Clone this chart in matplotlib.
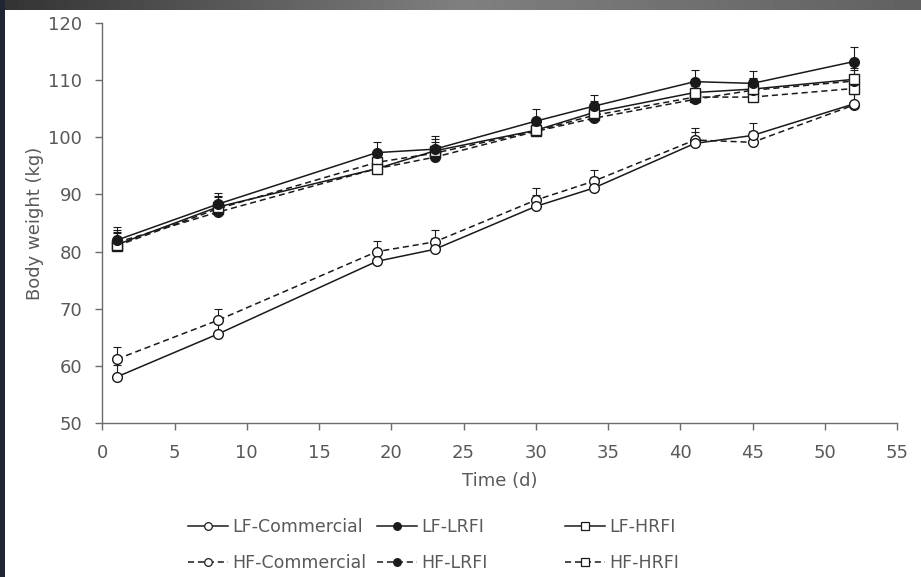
import numpy as np
import matplotlib.pyplot as plt

# sampling days
days = [1, 8, 19, 23, 30, 34, 41, 45, 52]

# body weight (kg)
lf_comm = [58.1, 65.6, 78.3, 80.4, 87.9, 91.1, 98.9, 100.3, 105.8]
hf_comm = [61.2, 68.0, 80.0, 81.7, 89.0, 92.3, 99.5, 99.1, 105.6]
lf_lrfi = [82.0, 88.3, 97.3, 97.9, 102.8, 105.4, 109.7, 109.4, 113.2]
hf_lrfi = [81.6, 86.9, 94.5, 96.5, 101.0, 103.3, 106.6, 108.2, 109.8]
lf_hrfi = [81.2, 87.8, 94.5, 97.6, 101.2, 104.3, 107.8, 108.4, 110.1]
hf_hrfi = [81.0, 87.5, 95.6, 97.2, 101.1, 103.8, 107.0, 107.0, 108.5]

# standard errors (upper bars only)
lf_comm_se = [2.1, 2.0, 2.0, 2.0, 2.0, 2.0, 2.0, 2.2, 2.0]
hf_comm_se = [2.1, 1.9, 1.9, 2.0, 2.2, 2.0, 2.1, 2.0, 2.0]
lf_lrfi_se = [2.3, 1.9, 1.9, 2.3, 2.1, 2.0, 2.1, 2.2, 2.6]
hf_lrfi_se = [2.2, 2.0, 2.0, 2.0, 2.0, 2.0, 2.0, 2.0, 2.0]
lf_hrfi_se = [2.2, 2.0, 2.0, 2.0, 2.0, 2.0, 2.0, 2.0, 2.0]
hf_hrfi_se = [2.2, 2.0, 2.0, 2.0, 2.0, 2.0, 2.0, 2.0, 2.0]

W, H = 921, 577
fig = plt.figure(figsize=(W / 100, H / 100), dpi=100)
plt.rcParams['font.family'] = ['DejaVu Sans']

# screenshot frame: gradient bar at top, dark strip at left
top = fig.add_axes([0, 1 - 10 / H, 1, 10 / H])
grad = np.interp(np.linspace(0, 1, 300), [0, 0.5, 1], [0.2, 0.5, 0.38])
top.imshow(np.vstack([grad, grad]), aspect='auto', cmap='gray', vmin=0, vmax=1)
top.axis('off')
left = fig.add_axes([0, 0, 5 / W, 1])
left.set_facecolor('#1f2533')
left.set_xticks([])
left.set_yticks([])
for s in left.spines.values():
    s.set_visible(False)

ax = fig.add_axes([102.3 / W, 1 - 423.3 / H, (897 - 102.3) / W, (423.3 - 22.7) / H])

txt = '#595959'
ink = '#1a1a1a'

series = [
    (hf_hrfi, hf_hrfi_se, 'HF-HRFI', 's', 'white', (0, (4, 2.5))),
    (hf_lrfi, hf_lrfi_se, 'HF-LRFI', 'o', ink, (0, (4, 2.5))),
    (hf_comm, hf_comm_se, 'HF-Commercial', 'o', 'white', (0, (4, 2.5))),
    (lf_hrfi, lf_hrfi_se, 'LF-HRFI', 's', 'white', '-'),
    (lf_comm, lf_comm_se, 'LF-Commercial', 'o', 'white', '-'),
    (lf_lrfi, lf_lrfi_se, 'LF-LRFI', 'o', ink, '-'),
]

handles = {}
for vals, se, name, mk, fc, ls in series:
    ax.errorbar(days, vals, yerr=[np.zeros(len(se)), se], fmt='none',
                ecolor=ink, elinewidth=0.8, capsize=3, capthick=0.8, zorder=2)
    ax.plot(days, vals, color=ink, lw=1.1, ls=ls, zorder=3)
    ax.plot(days, vals, ls='none', marker=mk, ms=7, mfc=fc, mec=ink, mew=1.0, zorder=4)
    h, = plt.plot([], [], color=ink, lw=1.1, ls=ls, marker=mk, ms=5.5, mfc=fc, mec=ink, mew=0.9)
    handles[name] = h

ax.set_xlim(0, 55)
ax.set_ylim(50, 120)
ax.set_xticks(range(0, 56, 5))
ax.set_yticks(range(50, 121, 10))
for s in ['top', 'right']:
    ax.spines[s].set_visible(False)
for s in ['left', 'bottom']:
    ax.spines[s].set_color('#6b6b6b')
    ax.spines[s].set_linewidth(1.0)
ax.tick_params(direction='out', length=5, width=1.0, color='#6b6b6b',
               labelcolor=txt, labelsize=13)
ax.tick_params(axis='x', pad=10)
ax.tick_params(axis='y', pad=9.5)
ax.set_xlabel('Time (d)', color=txt, fontsize=13, labelpad=7)
ax.set_ylabel('Body weight (kg)', color=txt, fontsize=13, labelpad=3)

# legend: three columns placed separately
cols = [(188, ['LF-Commercial', 'HF-Commercial']),
        (377, ['LF-LRFI', 'HF-LRFI']),
        (565, ['LF-HRFI', 'HF-HRFI'])]
for x0, names in cols:
    leg = fig.legend([handles[n] for n in names], names, loc='center left',
                     bbox_to_anchor=(x0 / W, 1 - 545 / H), frameon=False,
                     borderpad=0, borderaxespad=0, handlelength=2.3,
                     handletextpad=0.25, labelspacing=1.0, fontsize=12.5)
    for t in leg.get_texts():
        t.set_color(txt)

fig.savefig('out.png', dpi=100)
